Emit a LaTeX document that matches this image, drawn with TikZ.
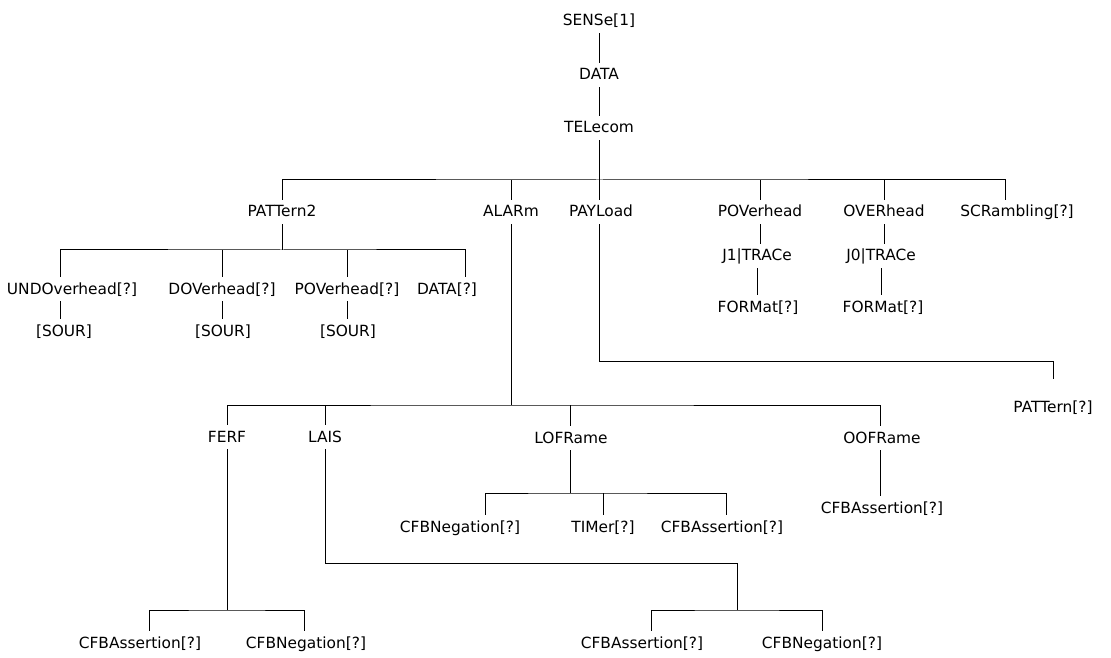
\documentclass[tikz,border=0pt]{standalone}
\usepackage{fontspec}
\setmainfont{DejaVu Sans}

\begin{document}
\begin{tikzpicture}[x=0.5pt,y=-0.5pt,
  lbl/.style={inner sep=2.5pt,text height=6pt,text depth=1pt,font=\fontsize{7.7}{9}\selectfont},
  wire/.style={line width=0.5pt}]
\useasboundingbox (0,0) rectangle (1111,657);
% top column
\node[lbl] (sense) at (599,21) {SENSe[1]};
\node[lbl] (data) at (599,75) {DATA};
\node[lbl] (tel) at (599,128) {TELecom};
\draw[wire] (sense) -- (data);
\draw[wire] (data) -- (tel);
% first level
\node[lbl] (pat2) at (282,212) {PATTern2};
\node[lbl] (alarm) at (511,212) {ALARm};
\node[lbl] (payl) at (601,212) {PAYLoad};
\node[lbl] (pov) at (760,212) {POVerhead};
\node[lbl] (over) at (884,212) {OVERhead};
\node[lbl] (scr) at (1017,212) {SCRambling[?]};
\coordinate (topbus) at (599,180);
\draw[wire] (tel) -- (topbus);
\draw[wire] (pat2.north) |- (topbus) -| ([xshift=-6pt]scr.north);
\foreach \n in {alarm,pov,over}
  \draw[wire] (\n.north) -- (\n.north |- topbus);
\draw[wire] ([xshift=-1pt]payl.north) -- ([xshift=-1pt]payl.north |- topbus);
% POVerhead and OVERhead
\node[lbl] (j1) at (757,256) {J1|TRACe};
\node[lbl] (fmt1) at (758,307) {FORMat[?]};
\node[lbl] (j0) at (881,256) {J0|TRACe};
\node[lbl] (fmt2) at (883,307) {FORMat[?]};
\draw[wire] (pov) -- (pov |- j1.north);
\draw[wire] (j1) -- (j1 |- fmt1.north);
\draw[wire] (over) -- (over |- j0.north);
\draw[wire] (j0) -- (j0 |- fmt2.north);
% PAYLoad
\node[lbl] (pattern) at (1053,407) {PATTern[?]};
\coordinate (paybend) at (1053,361);
\draw[wire] ([xshift=-1pt]payl.south) |- (paybend) -- ([yshift=8pt]pattern.north);
% PATTern2
\node[lbl] (undo) at (72,289) {UNDOverhead[?]};
\node[lbl] (dov) at (222,289) {DOVerhead[?]};
\node[lbl] (pov2) at (347,289) {POVerhead[?]};
\node[lbl] (data2) at (447,289) {DATA[?]};
\node[lbl] (sour1) at (64,331) {[SOUR]};
\node[lbl] (sour2) at (223,331) {[SOUR]};
\node[lbl] (sour3) at (348,331) {[SOUR]};
\coordinate (patbus) at (282,250);
\draw[wire] (pat2) -- (patbus);
\draw[wire] ([xshift=-6pt]undo.north) |- (patbus) -| ([xshift=9pt]data2.north);
\draw[wire] (dov.north) -- (dov.north |- patbus);
\draw[wire] (pov2.north) -- (pov2.north |- patbus);
\draw[wire] ([xshift=-6pt]undo.south) -- ([xshift=-6pt]undo.south |- sour1.north);
\draw[wire] (dov) -- (dov |- sour2.north);
\draw[wire] (pov2) -- (pov2 |- sour3.north);
% ALARm
\node[lbl] (ferf) at (227,437) {FERF};
\node[lbl] (lais) at (325,437) {LAIS};
\node[lbl] (lof) at (571,438) {LOFRame};
\node[lbl] (oof) at (882,438) {OOFRame};
\coordinate (albus) at (511,405);
\draw[wire] (alarm) -- (albus);
\draw[wire] (ferf.north) |- (albus) -| ([xshift=-1pt]oof.north);
\draw[wire] (lais.north) -- (lais.north |- albus);
\draw[wire] ([xshift=-0.5pt]lof.north) -- ([xshift=-0.5pt]lof.north |- albus);
% LOFRame
\node[lbl] (lofneg) at (460,527) {CFBNegation[?]};
\node[lbl] (timer) at (603,527) {TIMer[?]};
\node[lbl] (lofass) at (722,527) {CFBAssertion[?]};
\coordinate (lofbus) at (570,493);
\draw[wire] ([xshift=-0.5pt]lof.south) -- (lofbus);
\draw[wire] ([xshift=12.5pt]lofneg.north) |- (lofbus) -| ([xshift=2pt]lofass.north);
\draw[wire] (timer.north) -- (timer.north |- lofbus);
% OOFRame
\node[lbl] (oofass) at (882,508) {CFBAssertion[?]};
\draw[wire] ([xshift=-1pt]oof.south) -- ([xshift=-1pt]oofass.north);
% FERF
\node[lbl] (ferfass) at (140,643) {CFBAssertion[?]};
\node[lbl] (ferfneg) at (306,643) {CFBNegation[?]};
\coordinate (ferfbus) at (227,610);
\draw[wire] (ferf) -- (ferfbus);
\draw[wire] ([xshift=4.5pt]ferfass.north) |- (ferfbus) -| ([xshift=-1pt]ferfneg.north);
% LAIS
\node[lbl] (laisass) at (642,643) {CFBAssertion[?]};
\node[lbl] (laisneg) at (822,643) {CFBNegation[?]};
\coordinate (laisbend) at (737,563);
\coordinate (laisbus) at (737,610);
\draw[wire] (lais) |- (laisbend) -- (laisbus);
\draw[wire] ([xshift=4.5pt]laisass.north) |- (laisbus) -| (laisneg.north);
\end{tikzpicture}
\end{document}
